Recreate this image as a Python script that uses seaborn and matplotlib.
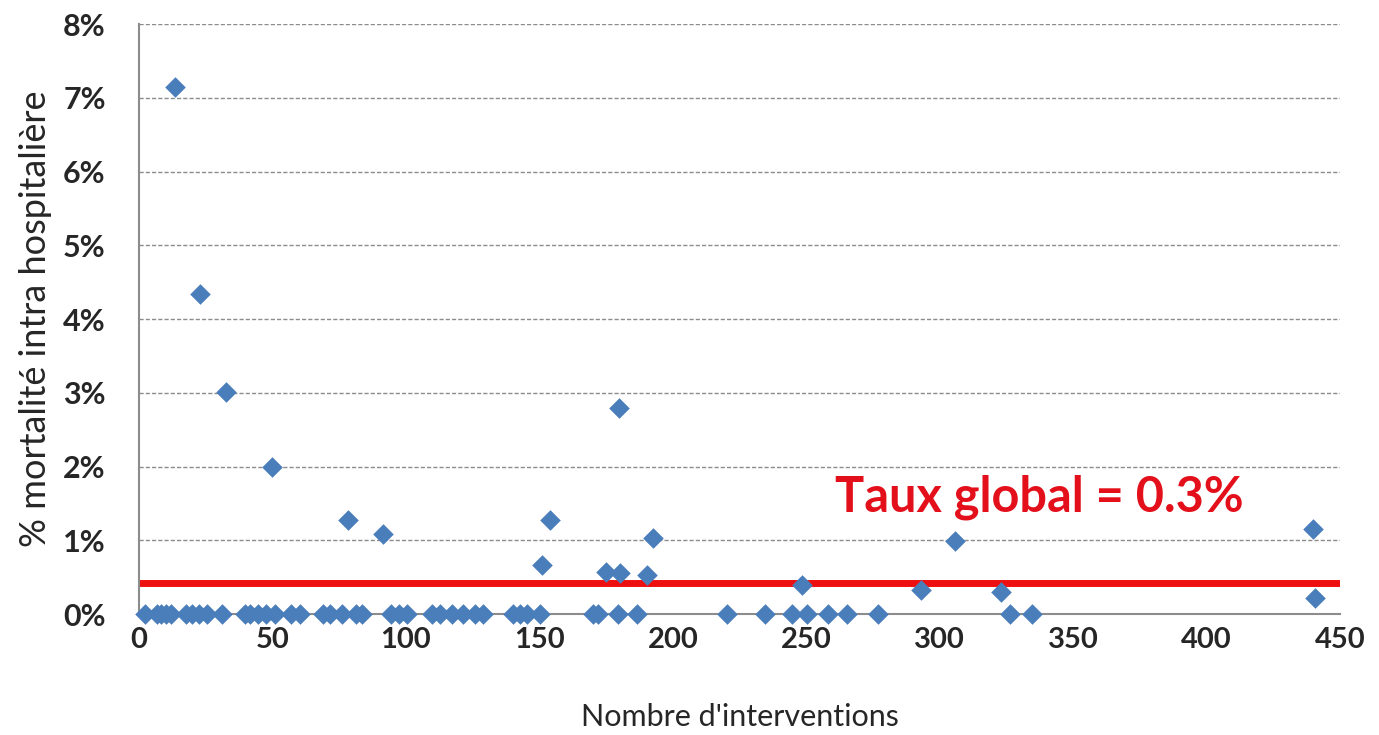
import matplotlib
matplotlib.use("Agg")
import matplotlib.pyplot as plt
import seaborn as sns
import pandas as pd
from matplotlib.ticker import FuncFormatter

# Data
interventions = [
    13.5, 22.9, 32.6, 49.8, 78.3, 91.4, 151, 154, 175, 180.2, 179.8, 190.3,
    192.6, 248.4, 293, 305.7, 323, 439.9, 440.6,
]
mortalite = [
    7.15, 4.34, 3.01, 1.99, 1.27, 1.08, 0.66, 1.27, 0.57, 0.56, 2.79, 0.53,
    1.03, 0.39, 0.33, 0.99, 0.30, 1.15, 0.22,
]
interventions_zero = [
    2.2, 6.7, 8.2, 10.1, 12, 17.6, 19.9, 22.5, 25.5, 31.1, 39.7, 41.6, 44.6,
    47.6, 51, 57, 60.4, 69, 71.6, 76.1, 81.3, 83.5, 94.4, 97.4, 100.4, 109.8,
    112.8, 117.3, 121.4, 125.9, 128.9, 140.1, 142.7, 145.4, 150.2, 170.1, 172,
    179.5, 186.6, 220.3, 234.5, 244.7, 250.3, 258.1, 265.3, 276.9, 326.3, 334.6,
]
taux_global_ligne = 0.42

df = pd.DataFrame({
    "n": interventions + interventions_zero,
    "pct": mortalite + [0.0] * len(interventions_zero),
})

sns.set_style("white")
plt.rcParams["font.family"] = ["Lato", "DejaVu Sans"]

fig = plt.figure(figsize=(13.79, 7.35), dpi=100)
ax = fig.add_axes([0.1008, 0.1646, 0.8709, 0.8027])

for v in range(1, 9):
    ax.axhline(v, color="#8c8c8c", lw=1, ls=(0, (3, 1.5)), zorder=0)

ax.plot([0, 450], [taux_global_ligne, taux_global_ligne], color="#ee1010",
        lw=5, zorder=2)

sns.scatterplot(data=df, x="n", y="pct", marker="D", s=110, color="#4a7ebb",
                edgecolor="#4a7ebb", linewidth=0, ax=ax, zorder=3, clip_on=False)

ax.set_xlim(0, 450)
ax.set_ylim(0, 8)
ax.set_xticks(range(0, 451, 50))
ax.set_yticks(range(0, 9))
ax.yaxis.set_major_formatter(FuncFormatter(lambda v, p: f"{int(v)}%"))

for s in ["top", "right"]:
    ax.spines[s].set_visible(False)
for s in ["left", "bottom"]:
    ax.spines[s].set_color("#8c8c8c")
    ax.spines[s].set_linewidth(1.5)

ax.tick_params(axis="x", direction="out", length=8, width=1.5, color="#8c8c8c",
               labelsize=21, pad=1)
ax.tick_params(axis="y", direction="out", length=0, labelsize=22, pad=24)
for lab in ax.get_xticklabels() + ax.get_yticklabels():
    lab.set_fontweight("bold")

ax.set_xlabel("Nombre d'interventions", fontsize=22, labelpad=36)
ax.set_ylabel("% mortalité intra hospitalière", fontsize=26, labelpad=8)

ax.text(337.5, 1.59, "Taux global = 0.3%", color="#e3101c", fontsize=35,
        fontweight="bold", ha="center", va="center")

plt.savefig("out.png", dpi=100)
plt.close()
